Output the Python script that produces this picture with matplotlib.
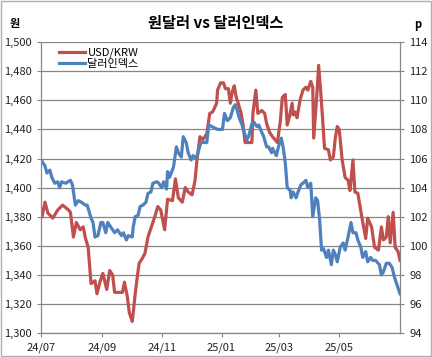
import pandas as pd
import matplotlib.pyplot as plt
import matplotlib.dates as mdates
from matplotlib.patches import Rectangle

plt.rcParams['font.family'] = ['Noto Sans CJK KR', 'DejaVu Sans']

# USD/KRW (left axis, won)
krw_dates = ['2024-07-02', '2024-07-05', '2024-07-08', '2024-07-13', '2024-07-18', '2024-07-23',
             '2024-07-29', '2024-07-31', '2024-08-03', '2024-08-06', '2024-08-10', '2024-08-13',
             '2024-08-15', '2024-08-18', '2024-08-21', '2024-08-25', '2024-08-27', '2024-08-30',
             '2024-09-02', '2024-09-06', '2024-09-09', '2024-09-12', '2024-09-14', '2024-09-17',
             '2024-09-22', '2024-09-24', '2024-09-27', '2024-09-29', '2024-10-02', '2024-10-03',
             '2024-10-05', '2024-10-07', '2024-10-09', '2024-10-12', '2024-10-15', '2024-10-18',
             '2024-10-22', '2024-10-25', '2024-10-28', '2024-10-31', '2024-11-02', '2024-11-04',
             '2024-11-06', '2024-11-07', '2024-11-12', '2024-11-15', '2024-11-18', '2024-11-22',
             '2024-11-25', '2024-11-28', '2024-12-02', '2024-12-05', '2024-12-07', '2024-12-10',
             '2024-12-13', '2024-12-17', '2024-12-20', '2024-12-23', '2024-12-27', '2024-12-28',
             '2024-12-31', '2025-01-03', '2025-01-05', '2025-01-08', '2025-01-10', '2025-01-12',
             '2025-01-14', '2025-01-16', '2025-01-18', '2025-01-21', '2025-01-23', '2025-01-25',
             '2025-01-28', '2025-02-01', '2025-02-02', '2025-02-05', '2025-02-07', '2025-02-11',
             '2025-02-14', '2025-02-16', '2025-02-19', '2025-02-22', '2025-02-27', '2025-03-02',
             '2025-03-04', '2025-03-07', '2025-03-09', '2025-03-11', '2025-03-14', '2025-03-15',
             '2025-03-17', '2025-03-19', '2025-03-22', '2025-03-25', '2025-03-28', '2025-03-30',
             '2025-04-02', '2025-04-04', '2025-04-05', '2025-04-08', '2025-04-10', '2025-04-12',
             '2025-04-14', '2025-04-16', '2025-04-20', '2025-04-22', '2025-04-25', '2025-04-27',
             '2025-04-29', '2025-05-01', '2025-05-04', '2025-05-07', '2025-05-10', '2025-05-12',
             '2025-05-15', '2025-05-17', '2025-05-20', '2025-05-24', '2025-05-28', '2025-05-30',
             '2025-06-03', '2025-06-06', '2025-06-10', '2025-06-13', '2025-06-15', '2025-06-18',
             '2025-06-20', '2025-06-22', '2025-06-25', '2025-06-27', '2025-06-30', '2025-07-02']
krw_vals = [1380, 1390, 1382.5, 1379, 1384.6, 1388,
            1384.6, 1383, 1366, 1376, 1371, 1373,
            1366, 1359, 1334, 1336, 1327, 1335,
            1341, 1330, 1343, 1340, 1328, 1328,
            1328, 1335, 1325, 1314, 1308, 1314,
            1327, 1338, 1348, 1351, 1355, 1366,
            1374, 1380, 1387, 1384.6, 1378, 1371,
            1385, 1392, 1391, 1406, 1393, 1390,
            1400, 1397, 1395, 1405, 1419, 1435,
            1433, 1437, 1451, 1452, 1458, 1467,
            1472, 1472, 1468, 1468, 1458, 1466,
            1470, 1462, 1458, 1451, 1443, 1431,
            1431, 1431, 1451, 1467, 1451, 1453,
            1451, 1444, 1438, 1435, 1431, 1446,
            1462, 1464, 1443, 1448, 1458, 1450,
            1452, 1448, 1460, 1467, 1469, 1467,
            1473, 1469, 1434, 1462, 1484, 1467,
            1448, 1427, 1426, 1419, 1421, 1434,
            1442, 1440, 1419, 1407, 1405, 1398,
            1419, 1397, 1396, 1380, 1365, 1379,
            1373, 1359, 1357, 1373, 1364, 1366,
            1380, 1362, 1383, 1359, 1356, 1350]

# dollar index (right axis, p)
dxy_dates = ['2024-07-01', '2024-07-05', '2024-07-07', '2024-07-10', '2024-07-12', '2024-07-15',
             '2024-07-18', '2024-07-20', '2024-07-22', '2024-07-26', '2024-07-31', '2024-08-02',
             '2024-08-05', '2024-08-08', '2024-08-11', '2024-08-15', '2024-08-17', '2024-08-21',
             '2024-08-23', '2024-08-25', '2024-08-28', '2024-08-31', '2024-09-02', '2024-09-05',
             '2024-09-07', '2024-09-11', '2024-09-14', '2024-09-17', '2024-09-21', '2024-09-23',
             '2024-09-26', '2024-09-28', '2024-10-02', '2024-10-03', '2024-10-05', '2024-10-08',
             '2024-10-10', '2024-10-13', '2024-10-16', '2024-10-18', '2024-10-21', '2024-10-23',
             '2024-10-27', '2024-10-29', '2024-11-01', '2024-11-03', '2024-11-06', '2024-11-07',
             '2024-11-09', '2024-11-13', '2024-11-16', '2024-11-18', '2024-11-21', '2024-11-23',
             '2024-11-26', '2024-11-28', '2024-12-01', '2024-12-03', '2024-12-06', '2024-12-08',
             '2024-12-11', '2024-12-13', '2024-12-17', '2024-12-19', '2024-12-22', '2024-12-25',
             '2024-12-28', '2025-01-02', '2025-01-04', '2025-01-07', '2025-01-10', '2025-01-13',
             '2025-01-15', '2025-01-17', '2025-01-19', '2025-01-22', '2025-01-24', '2025-01-27',
             '2025-01-29', '2025-02-01', '2025-02-03', '2025-02-06', '2025-02-08', '2025-02-11',
             '2025-02-13', '2025-02-16', '2025-02-18', '2025-02-21', '2025-02-22', '2025-02-26',
             '2025-02-28', '2025-03-03', '2025-03-05', '2025-03-07', '2025-03-09', '2025-03-12',
             '2025-03-13', '2025-03-15', '2025-03-18', '2025-03-20', '2025-03-23', '2025-03-25',
             '2025-03-28', '2025-03-30', '2025-04-02', '2025-04-04', '2025-04-07', '2025-04-09',
             '2025-04-11', '2025-04-13', '2025-04-15', '2025-04-18', '2025-04-20', '2025-04-23',
             '2025-04-25', '2025-04-27', '2025-04-29', '2025-05-02', '2025-05-05', '2025-05-07',
             '2025-05-10', '2025-05-13', '2025-05-15', '2025-05-18', '2025-05-20', '2025-05-23',
             '2025-05-25', '2025-05-28', '2025-05-30', '2025-06-02', '2025-06-04', '2025-06-07',
             '2025-06-11', '2025-06-13', '2025-06-15', '2025-06-18', '2025-06-21', '2025-06-24',
             '2025-06-26', '2025-06-29', '2025-07-02']
dxy_vals = [105.9, 105.5, 105.0, 105.2, 104.7, 104.3,
            104.4, 104.0, 104.4, 104.3, 104.5, 104.2,
            102.8, 103.1, 103.0, 102.8, 102.8, 101.9,
            101.6, 100.6, 100.7, 101.6, 101.6, 100.9,
            101.6, 101.2, 100.9, 101.1, 100.7, 100.9,
            100.4, 100.7, 100.6, 101.3, 102.0, 102.1,
            102.7, 102.8, 103.0, 103.6, 103.7, 104.3,
            104.4, 104.3, 104.0, 104.4, 103.9, 105.1,
            104.7, 105.4, 106.8, 106.4, 106.1, 107.5,
            107.1, 106.4, 105.9, 106.2, 106.0, 106.4,
            107.1, 107.1, 107.1, 108.3, 108.2, 108.1,
            108.0, 108.0, 109.1, 108.6, 108.8, 109.5,
            109.7, 109.3, 108.8, 108.3, 107.8, 107.3,
            107.6, 108.4, 108.5, 108.2, 108.3, 107.8,
            107.5, 106.8, 106.8, 106.4, 106.7, 106.2,
            106.8, 107.4, 106.7, 105.7, 104.0, 103.8,
            103.3, 103.7, 103.3, 103.7, 104.2, 104.3,
            104.5, 104.0, 104.3, 102.0, 103.3, 103.1,
            101.8, 99.7, 99.8, 99.2, 99.7, 98.7,
            99.7, 99.4, 98.9, 99.9, 100.2, 99.7,
            100.6, 101.6, 100.9, 100.9, 100.4, 99.9,
            99.2, 99.6, 98.9, 99.2, 99.0, 99.0,
            98.7, 98.0, 98.2, 98.8, 98.8, 98.5,
            97.9, 97.3, 96.7]

krw_x = pd.to_datetime(krw_dates)
dxy_x = pd.to_datetime(dxy_dates)

red = '#C0504D'
blue = '#4F81BD'
grid_c = '#868686'

fig = plt.figure(figsize=(4.32, 3.57), dpi=100)
ax = fig.add_axes([0.095, 0.067, 0.831, 0.815])
ax2 = ax.twinx()

l1, = ax.plot(krw_x, krw_vals, color=red, lw=2.3, label='USD/KRW')
l2, = ax2.plot(dxy_x, dxy_vals, color=blue, lw=2.3, label='달러인덱스')

ax.set_ylim(1300, 1500)
ax.set_yticks(range(1300, 1501, 20))
ax.yaxis.set_major_formatter(plt.FuncFormatter(lambda v, p: f'{int(v):,}'))
ax2.set_ylim(94, 114)
ax2.set_yticks(range(94, 115, 2))

ax.set_xlim(pd.Timestamp('2024-07-01'), pd.Timestamp('2025-07-02'))
ax.set_xticks(pd.to_datetime(['2024-07-01', '2024-09-01', '2024-11-01',
                              '2025-01-01', '2025-03-01', '2025-05-01']))
ax.xaxis.set_major_formatter(mdates.DateFormatter('%y/%m'))

ax.grid(axis='y', color=grid_c, lw=0.9)
ax.set_axisbelow(True)
for a in (ax, ax2):
    for s in a.spines.values():
        s.set_color(grid_c)
    a.spines['top'].set_visible(False)
    a.tick_params(colors=grid_c, labelcolor='#222222', labelsize=8, length=3)

ax.legend([l1, l2], ['USD/KRW', '달러인덱스'], loc='upper left', frameon=False,
          fontsize=8, handlelength=2.3, handletextpad=0.25, borderaxespad=0.2,
          labelspacing=0.1, borderpad=0.3, bbox_to_anchor=(0.035, 1.0))

fig.text(0.5, 0.935, '원달러 vs 달러인덱스', ha='center', va='center',
         fontsize=11, fontweight='bold')
fig.text(0.035, 0.935, '원', ha='center', va='center', fontsize=8, fontweight='bold')
fig.text(0.967, 0.93, 'p', ha='center', va='center', fontsize=8, fontweight='bold')

fig.patches.append(Rectangle((0.002, 0.002), 0.996, 0.994, transform=fig.transFigure,
                             fill=False, edgecolor='#b0b0b0', lw=1))

fig.savefig('out.png', dpi=100)
